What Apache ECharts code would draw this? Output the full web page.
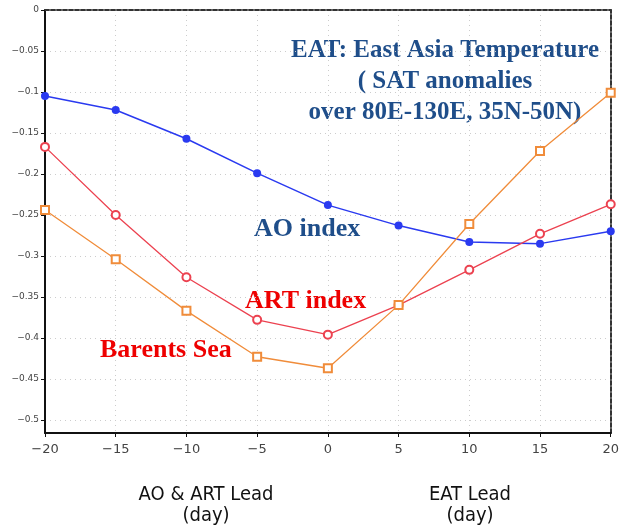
<!DOCTYPE html>
<html><head><meta charset="utf-8">
<script src="https://cdn.jsdelivr.net/npm/echarts@6/dist/echarts.min.js"></script>
<style>html,body{margin:0;padding:0;background:#fff}#c{width:622px;height:529px}</style>
</head><body><div id="c"></div>
<script>
const leadDays = [-20, -15, -10, -5, 0, 5, 10, 15, 20];
const aoIndex = [-0.105, -0.122, -0.157, -0.199, -0.238, -0.263, -0.283, -0.285, -0.270];
const artIndex = [-0.167, -0.250, -0.326, -0.378, -0.396, -0.360, -0.317, -0.273, -0.237];
const barentsSea = [-0.244, -0.304, -0.367, -0.423, -0.437, -0.360, -0.261, -0.172, -0.101];
const yTicks = [0, -0.05, -0.1, -0.15, -0.2, -0.25, -0.3, -0.35, -0.4, -0.45, -0.5];

const pairs = a => leadDays.map((d, i) => [d, a[i]]);
const minus = v => String(v).replace('-', '\u2212');

const chart = echarts.init(document.getElementById('c'), null, {renderer: 'canvas'});
const blueText = '#1f4e8a';
const serif = '"Liberation Serif", "DejaVu Serif", serif';
const sans = '"DejaVu Sans Condensed", "DejaVu Sans", sans-serif';
function ctext(str, x, y, font, fill) {
  return {type: 'text', x: x, y: y, style: {text: str, align: 'center', textAlign: 'center', verticalAlign: 'middle', textVerticalAlign: 'middle', font: font, fill: fill}};
}
function ltext(str, x, y, font, fill) {
  return {type: 'text', x: x, y: y, style: {text: str, align: 'left', verticalAlign: 'middle', textVerticalAlign: 'middle', font: font, fill: fill}};
}
chart.setOption({
  animation: false,
  backgroundColor: '#fff',
  grid: {left: 45, right: 10, top: 10, bottom: 96},
  xAxis: [{
    type: 'value', min: -20, max: 20, interval: 5,
    axisLine: {onZero: false, lineStyle: {color: '#111', width: 2}},
    axisTick: {show: true, length: 4, lineStyle: {color: '#111'}},
    axisLabel: {formatter: v => minus(v), color: '#444', fontSize: 13, fontFamily: '"DejaVu Sans", sans-serif', margin: 10},
    splitLine: {show: true, lineStyle: {color: '#ccc', type: [1, 4]}}
  }, {
    type: 'value', min: -20, max: 20, interval: 5, position: 'top',
    axisLine: {show: true, onZero: false, lineStyle: {color: '#333', width: 2, type: [4, 2]}},
    axisTick: {show: false}, axisLabel: {show: false}, splitLine: {show: false}
  }],
  yAxis: [{
    type: 'value', min: -0.516, max: 0,
    axisLine: {show: true, onZero: false, lineStyle: {color: '#111', width: 2}},
    axisTick: {show: true, length: 4, customValues: yTicks, lineStyle: {color: '#111'}},
    axisLabel: {customValues: yTicks, formatter: v => minus(v), color: '#444', fontSize: 9, fontFamily: '"DejaVu Sans", sans-serif', margin: 6},
    splitLine: {show: true, lineStyle: {color: '#ccc', type: [1, 4]}}
  }, {
    type: 'value', min: -0.516, max: 0, position: 'right',
    axisLine: {show: true, onZero: false, lineStyle: {color: '#333', width: 2, type: [4, 2]}},
    axisTick: {show: false}, axisLabel: {show: false}, splitLine: {show: false}
  }],
  series: [{
    name: 'AO index', type: 'line', data: pairs(aoIndex),
    symbol: 'circle', symbolSize: 8,
    lineStyle: {color: '#2a3af0', width: 1.5},
    itemStyle: {color: '#2a3af0'}
  }, {
    name: 'ART index', type: 'line', data: pairs(artIndex),
    symbol: 'emptyCircle', symbolSize: 8,
    lineStyle: {color: '#ec4250', width: 1.3},
    itemStyle: {color: '#ec4250', borderWidth: 1.3}
  }, {
    name: 'Barents Sea', type: 'line', data: pairs(barentsSea),
    symbol: 'emptyRect', symbolSize: 8,
    lineStyle: {color: '#f08c3a', width: 1.3},
    itemStyle: {color: '#f08c3a', borderWidth: 1.3}
  }],
  graphic: [
    ctext('EAT: East Asia Temperature', 445, 51, 'bold 25px ' + serif, blueText),
    ctext('( SAT anomalies', 445, 82, 'bold 25px ' + serif, blueText),
    ctext('over 80E-130E, 35N-50N)', 445, 113, 'bold 25px ' + serif, blueText),
    ltext('AO index', 254, 229, 'bold 26px ' + serif, blueText),
    ltext('ART index', 245, 301, 'bold 26px ' + serif, '#ee0000'),
    ltext('Barents Sea', 100, 350, 'bold 26px ' + serif, '#ee0000'),
    ctext('AO & ART Lead', 206, 495, '20px ' + sans, '#111'),
    ctext('(day)', 206, 516, '20px ' + sans, '#111'),
    ctext('EAT Lead', 470, 495, '20px ' + sans, '#111'),
    ctext('(day)', 470, 516, '20px ' + sans, '#111')
  ]
});
</script></body></html>
